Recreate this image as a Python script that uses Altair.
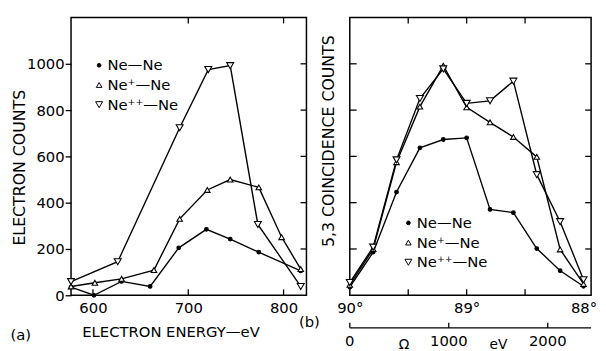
import altair as alt
import pandas as pd

FONT = "DejaVu Sans"

series_names = ["Ne—Ne", "Ne⁺—Ne", "Ne⁺⁺—Ne"]
shapes = ["circle", "triangle-up", "triangle-down"]
fills = ["black", "white", "white"]
strokes = ["black", "black", "black"]
sizes = [14, 50, 50]

# ---- panel (a): electron counts vs electron energy (eV)
a_nene_e = [577, 601, 630, 660, 690, 719, 744, 774, 818]
a_nene_c = [35, 0, 60, 38, 205, 285, 243, 186, 105]
a_nep_e = [577, 602, 630, 664, 691, 720, 744, 774, 798, 818]
a_nep_c = [38, 54, 71, 109, 330, 455, 500, 466, 251, 113]
a_nepp_e = [577, 626, 691, 721, 744, 773, 818]
a_nepp_c = [59, 145, 724, 975, 992, 306, 38]

# ---- panel (b): coincidence counts vs angle (deg)
b_angle = [90.0, 89.8, 89.6, 89.4, 89.2, 89.0, 88.8, 88.6, 88.4, 88.2, 88.0]
b_nene = [35, 186, 446, 637, 673, 680, 371, 357, 202, 106, 39]
b_nep = [45, 200, 575, 815, 992, 812, 747, 684, 598, 198, 49]
b_nepp = [55, 208, 585, 850, 978, 829, 840, 925, 521, 318, 67]

a_y_ticks = [0, 200, 400, 600, 800, 1000]
a_y_inner = [200, 400, 600, 800, 1000]
a_x_ticks = [600, 700, 800]
a_x_top = [700, 800]
b_y_inner = [200, 400, 600, 800, 1000]
b_x_inner = [89.5, 89.0, 88.5]
b_x_labels = [90, 89, 88]
ev_ticks = [0, 1000, 2000]
ev_labels = ["0", "1000", "2000"]

WA, WB, H = 239, 245, 282
TK = 6

rows = []
for name, xs, ys in zip(series_names, [a_nene_e, a_nep_e, a_nepp_e], [a_nene_c, a_nep_c, a_nepp_c]):
    for x, y in zip(xs, ys):
        rows.append({"x": x, "y": y, "series": name})
df_a = pd.DataFrame(rows)

rows = []
for name, ys in zip(series_names, [b_nene, b_nep, b_nepp]):
    for x, y in zip(b_angle, ys):
        rows.append({"x": x, "y": y, "series": name})
df_b = pd.DataFrame(rows)

yscale = alt.Scale(domain=[0, 1200], nice=False, zero=False)
xscale_a = alt.Scale(domain=[577, 824], nice=False, zero=False)
xscale_b = alt.Scale(domain=[87.935, 90], nice=False, zero=False, reverse=True)
shape_sc = alt.Scale(domain=series_names, range=shapes)
fill_sc = alt.Scale(domain=series_names, range=fills)
stroke_sc = alt.Scale(domain=series_names, range=strokes)
size_sc = alt.Scale(domain=series_names, range=sizes)


def legend(lx, ly):
    return alt.Legend(orient="none", legendX=lx, legendY=ly, title=None,
                      labelFont=FONT, labelFontSize=15, labelColor="black",
                      rowPadding=4, padding=0, labelOffset=1,
                      symbolStrokeColor="black", symbolStrokeWidth=1)


def series_layers(df, xscale, xaxis, yaxis, leg):
    line = alt.Chart(df).mark_line(color="black", strokeWidth=1.4).encode(
        x=alt.X("x:Q", scale=xscale, axis=xaxis),
        y=alt.Y("y:Q", scale=yscale, axis=yaxis),
        detail="series:N",
    )
    pts = alt.Chart(df).mark_point(strokeWidth=1.1, opacity=1, fillOpacity=1).encode(
        x=alt.X("x:Q", scale=xscale, axis=xaxis),
        y=alt.Y("y:Q", scale=yscale, axis=yaxis),
        shape=alt.Shape("series:N", scale=shape_sc, legend=leg),
        fill=alt.Fill("series:N", scale=fill_sc, legend=leg),
        stroke=alt.Stroke("series:N", scale=stroke_sc, legend=leg),
        size=alt.Size("series:N", scale=size_sc, legend=leg),
    )
    return [line, pts]


def frame_ticks(xscale, w, xaxis, yaxis, left_vals, right_vals, bottom_vals, top_vals):
    out = []
    if left_vals:
        out.append(alt.Chart(pd.DataFrame({"y": left_vals})).mark_rule(color="black", strokeWidth=1.3).encode(
            y=alt.Y("y:Q", scale=yscale, axis=yaxis), x=alt.value(0), x2=alt.value(TK + 1)))
    if right_vals:
        out.append(alt.Chart(pd.DataFrame({"y": right_vals})).mark_rule(color="black", strokeWidth=1.3).encode(
            y=alt.Y("y:Q", scale=yscale, axis=yaxis), x=alt.value(w - TK), x2=alt.value(w)))
    if bottom_vals:
        out.append(alt.Chart(pd.DataFrame({"x": bottom_vals})).mark_rule(color="black", strokeWidth=1.3).encode(
            x=alt.X("x:Q", scale=xscale, axis=xaxis), y=alt.value(H - TK), y2=alt.value(H)))
    if top_vals:
        out.append(alt.Chart(pd.DataFrame({"x": top_vals})).mark_rule(color="black", strokeWidth=1.3).encode(
            x=alt.X("x:Q", scale=xscale, axis=xaxis), y=alt.value(0), y2=alt.value(TK)))
    return out


# ---------- panel (a)
xaxis_a = alt.Axis(values=a_x_ticks, ticks=False, domain=False, grid=False, labelPadding=6,
                   labelFlush=False, labelFontSize=15, format="d",
                   title="ELECTRON ENERGY—eV", titleFontSize=15,
                   titleFontWeight="normal", titleX=101, titleY=42, titleBaseline="alphabetic")
yaxis_a = alt.Axis(values=a_y_ticks, tickSize=TK, tickWidth=1.3, domain=False, grid=False,
                   labelPadding=1, labelFlush=False, labelFontSize=15, format="d",
                   title="ELECTRON COUNTS", titleFontSize=16,
                   titleFontWeight="normal", titleX=-44, titleY=152)
label_a = alt.Chart(pd.DataFrame({"t": ["(a)"]})).mark_text(
    font=FONT, fontSize=15, color="black", align="center", baseline="middle").encode(
    text="t:N", x=alt.value(-51), y=alt.value(H + 40))

panel_a = alt.layer(
    *series_layers(df_a, xscale_a, xaxis_a, yaxis_a, legend(21, 41)),
    *frame_ticks(xscale_a, WA, xaxis_a, yaxis_a, None, a_y_inner, a_x_ticks, a_x_top),
    label_a,
).properties(width=WA, height=H)

# ---------- panel (b)
xaxis_b = alt.Axis(values=b_x_labels, ticks=False, domain=False, grid=False, labelPadding=6,
                   labelFlush=False,
                   labelFontSize=15, labelExpr="datum.value + '°'", title=None, orient="bottom")
yaxis_b = alt.Axis(labels=False, ticks=False, domain=False, grid=False,
                   title="5,3 COINCIDENCE COUNTS", titleFontSize=16, titleFontWeight="normal",
                   titleX=-14, titleY=125)
label_b = alt.Chart(pd.DataFrame({"t": ["(b)"]})).mark_text(
    font=FONT, fontSize=15, color="black", align="center", baseline="middle").encode(
    text="t:N", x=alt.value(-41), y=alt.value(H + 27))

main_b = alt.layer(
    *series_layers(df_b, xscale_b, xaxis_b, yaxis_b, legend(52, 201)),
    *frame_ticks(xscale_b, WB, xaxis_b, yaxis_b, b_y_inner, b_y_inner, b_x_inner, b_x_inner),
    label_b,
)

ev_scale = alt.Scale(domain=[0, 2438], nice=False, zero=False)
EVY = H + 33
ev_line = alt.Chart(pd.DataFrame({"d": [0]})).mark_rule(color="black", strokeWidth=1.3).encode(
    x=alt.value(0), x2=alt.value(WB), y=alt.value(EVY))
ev_tick = alt.Chart(pd.DataFrame({"ev": ev_ticks})).mark_rule(color="black", strokeWidth=1.3).encode(
    x=alt.X("ev:Q", scale=ev_scale, axis=None), y=alt.value(EVY - 5), y2=alt.value(EVY))
ev_text = alt.Chart(pd.DataFrame({"ev": ev_ticks, "t": ev_labels})).mark_text(
    font=FONT, fontSize=15, color="black", align="center", baseline="top").encode(
    x=alt.X("ev:Q", scale=ev_scale, axis=None), y=alt.value(EVY + 7), text="t:N")
ev_unit = alt.Chart(pd.DataFrame({"t": ["eV"]})).mark_text(
    font=FONT, fontSize=14, color="black", align="center", baseline="top").encode(
    x=alt.value(151), y=alt.value(EVY + 11), text="t:N")
ev_omega = alt.Chart(pd.DataFrame({"t": ["Ω"]})).mark_text(
    font=FONT, fontSize=14, color="black", align="center", baseline="top").encode(
    x=alt.value(55), y=alt.value(EVY + 11), text="t:N")

ev_layer = alt.layer(ev_line, ev_tick, ev_text, ev_unit, ev_omega)

panel_b = alt.layer(main_b, ev_layer).resolve_scale(x="independent").properties(width=WB, height=H)

chart = alt.hconcat(panel_a, panel_b, spacing=44, bounds="flush").resolve_scale(
    shape="independent", fill="independent", size="independent", stroke="independent"
).resolve_legend(shape="independent", fill="independent", size="independent", stroke="independent").properties(
    padding={"left": 1, "top": 5, "right": 0, "bottom": 0}
).configure(font=FONT).configure_view(stroke="black", strokeWidth=1.5).configure_axis(
    labelFont=FONT, titleFont=FONT, labelColor="black", titleColor="black", tickColor="black"
)

chart.save("out.html", embed_options={"renderer": "svg", "actions": False})
